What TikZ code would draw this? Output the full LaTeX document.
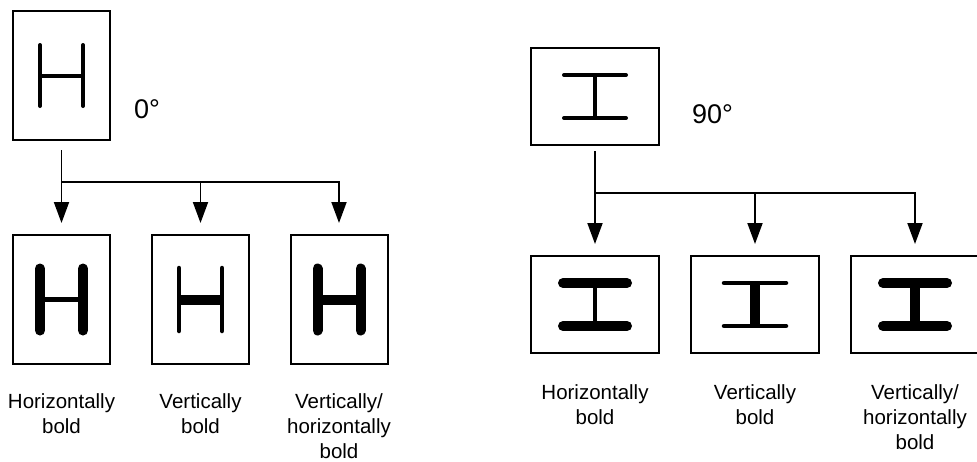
\documentclass[tikz,border=0pt]{standalone}
\usepackage{fontspec}
\setmainfont{Liberation Sans}
\usetikzlibrary{arrows.meta}
\begin{document}
\begin{tikzpicture}[x=1pt,y=-1pt,
  tallbox/.style={draw,line width=2pt,minimum width=97pt,minimum height=129pt,inner sep=0pt},
  widebox/.style={draw,line width=2pt,minimum width=128pt,minimum height=97pt,inner sep=0pt},
  arr/.style={line width=1.9pt,-{Triangle[width=15pt,length=21pt]}},
  lbl/.style={font=\fontsize{20.5}{25}\selectfont,align=center,anchor=north,inner sep=0pt},
  deg/.style={font=\fontsize{27}{30}\selectfont,anchor=west,inner sep=0pt},
  thin/.style={line width=4.5pt,line cap=round},
  thick/.style={line width=10pt,line cap=round}]
\useasboundingbox (0,0) rectangle (977,461);

% ---------- left group (0 deg) ----------
\node[tallbox] (t0) at (61.5,75.5) {};
\node[deg] (d0) at (134,109) {0°};
\node[tallbox] (a1) at (61.5,299.5) {};
\node[tallbox] (a2) at (200.5,299.5) {};
\node[tallbox] (a3) at (339,299.5) {};
\coordinate (j0) at (61.5,182);

\draw[arr,shorten <=9pt,shorten >=11pt] (t0) -- (a1);
\draw[arr,shorten >=11pt] (j0) -| (a2);
\draw[arr,shorten >=11pt] (j0) -| (a3);

% H glyphs
\draw[line width=4pt,line cap=round] ([xshift=-21.5pt,yshift=30.5pt]t0.center) -- ([xshift=-21.5pt,yshift=-30.5pt]t0.center)
  ([xshift=21.5pt,yshift=30.5pt]t0.center) -- ([xshift=21.5pt,yshift=-30.5pt]t0.center);
\draw[line width=4pt] ([xshift=-21.5pt]t0.center) -- ([xshift=21.5pt]t0.center);

\draw[thick] ([xshift=-21.5pt,yshift=31pt]a1.center) -- ([xshift=-21.5pt,yshift=-31pt]a1.center)
  ([xshift=21.5pt,yshift=31pt]a1.center) -- ([xshift=21.5pt,yshift=-31pt]a1.center);
\draw[line width=4.5pt] ([xshift=-21.5pt]a1.center) -- ([xshift=21.5pt]a1.center);

\draw[thin] ([xshift=-21.5pt,yshift=31.5pt]a2.center) -- ([xshift=-21.5pt,yshift=-31.5pt]a2.center)
  ([xshift=21.5pt,yshift=31.5pt]a2.center) -- ([xshift=21.5pt,yshift=-31.5pt]a2.center);
\draw[line width=10pt] ([xshift=-21.5pt]a2.center) -- ([xshift=21.5pt]a2.center);

\draw[thick] ([xshift=-21.5pt,yshift=31pt]a3.center) -- ([xshift=-21.5pt,yshift=-31pt]a3.center)
  ([xshift=21.5pt,yshift=31pt]a3.center) -- ([xshift=21.5pt,yshift=-31pt]a3.center);
\draw[line width=10pt] ([xshift=-21.5pt]a3.center) -- ([xshift=21.5pt]a3.center);

\node[lbl] (la1) at (61.5,393) {Horizontally\\bold};
\node[lbl] (la2) at (200.5,393) {Vertically\\bold};
\node[lbl] (la3) at (339,393) {Vertically/\\horizontally\\bold};

% ---------- right group (90 deg) ----------
\node[widebox] (t9) at (595,96.5) {};
\node[deg] (d9) at (692,114) {90°};
\node[widebox] (b1) at (595,304.5) {};
\node[widebox] (b2) at (755,304.5) {};
\node[widebox] (b3) at (915,304.5) {};
\coordinate (j9) at (595,193);

\draw[arr,shorten <=5pt,shorten >=11pt] (t9) -- (b1);
\draw[arr,shorten >=11pt] (j9) -| (b2);
\draw[arr,shorten >=11pt] (j9) -| (b3);

% I glyphs
\draw[line width=4pt,line cap=round] ([xshift=-31pt,yshift=-21.5pt]t9.center) -- ([xshift=31pt,yshift=-21.5pt]t9.center)
  ([xshift=-31pt,yshift=21.5pt]t9.center) -- ([xshift=31pt,yshift=21.5pt]t9.center);
\draw[line width=4pt] ([yshift=-21.5pt]t9.center) -- ([yshift=21.5pt]t9.center);

\draw[thick] ([xshift=-32pt,yshift=-21.5pt]b1.center) -- ([xshift=32pt,yshift=-21.5pt]b1.center)
  ([xshift=-32pt,yshift=21.5pt]b1.center) -- ([xshift=32pt,yshift=21.5pt]b1.center);
\draw[line width=4.5pt] ([yshift=-21.5pt]b1.center) -- ([yshift=21.5pt]b1.center);

\draw[thin] ([xshift=-31pt,yshift=-21.5pt]b2.center) -- ([xshift=31pt,yshift=-21.5pt]b2.center)
  ([xshift=-31pt,yshift=21.5pt]b2.center) -- ([xshift=31pt,yshift=21.5pt]b2.center);
\draw[line width=10pt] ([yshift=-21.5pt]b2.center) -- ([yshift=21.5pt]b2.center);

\draw[thick] ([xshift=-32pt,yshift=-21.5pt]b3.center) -- ([xshift=32pt,yshift=-21.5pt]b3.center)
  ([xshift=-32pt,yshift=21.5pt]b3.center) -- ([xshift=32pt,yshift=21.5pt]b3.center);
\draw[line width=10pt] ([yshift=-21.5pt]b3.center) -- ([yshift=21.5pt]b3.center);

\node[lbl] (lb1) at (595,384) {Horizontally\\bold};
\node[lbl] (lb2) at (755,384) {Vertically\\bold};
\node[lbl] (lb3) at (915,384) {Vertically/\\horizontally\\bold};
\end{tikzpicture}
\end{document}
